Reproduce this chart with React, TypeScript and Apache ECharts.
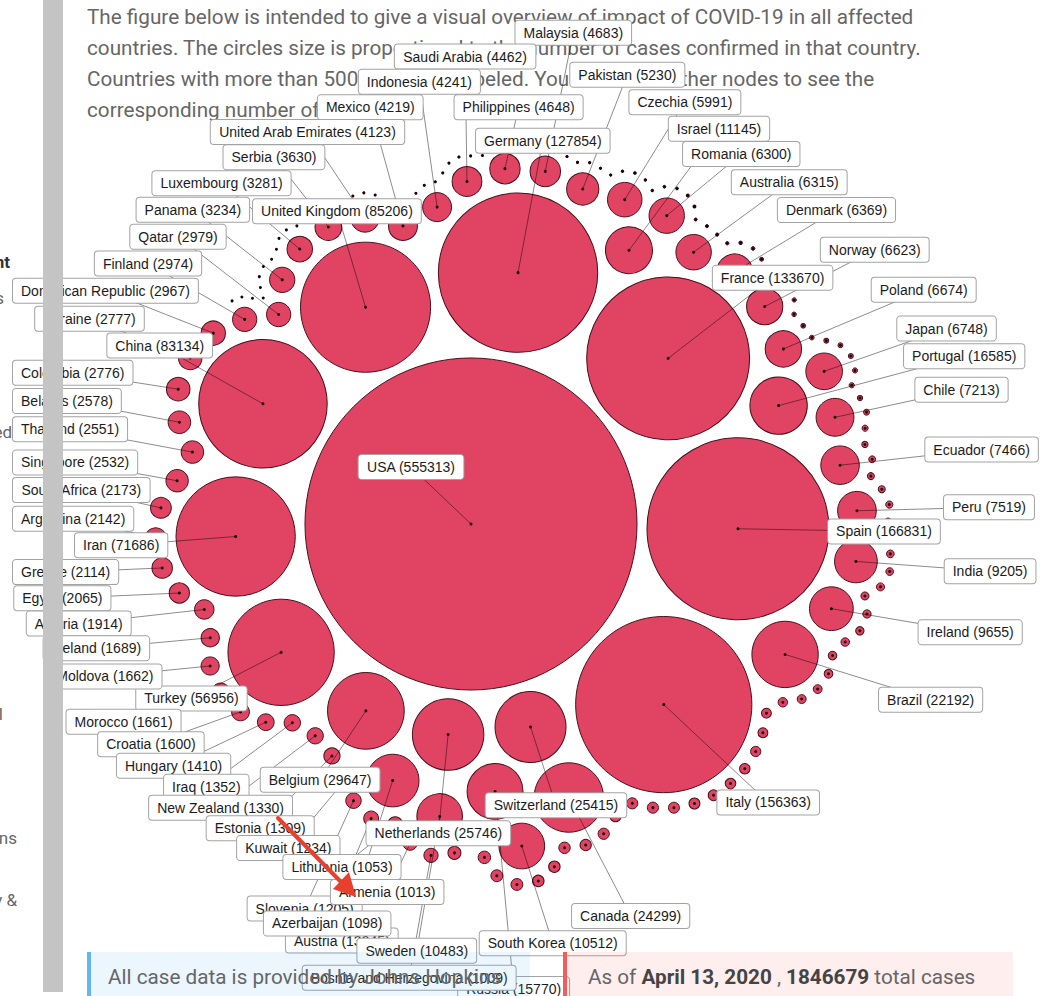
import React, { useEffect, useRef } from "react";
import * as echarts from "echarts";

// ---------------- data (cases per country, JHU snapshot) ----------------
const countries: string[] = [
  "USA", "Spain", "Italy", "France", "Germany", "United Kingdom", "China", "Iran", "Turkey", "Belgium",
  "Netherlands", "Switzerland", "Canada", "Brazil", "Portugal", "Russia", "Austria", "Israel", "South Korea", "Sweden",
  "Ireland", "India", "Peru", "Ecuador", "Chile", "Japan", "Poland", "Norway", "Denmark", "Australia",
  "Romania", "Czechia", "Pakistan", "Malaysia", "Philippines", "Saudi Arabia", "Indonesia", "Mexico", "United Arab Emirates", "Serbia",
  "Luxembourg", "Panama", "Qatar", "Finland", "Dominican Republic", "Ukraine", "Colombia", "Belarus", "Thailand", "Singapore",
  "South Africa", "Argentina", "Greece", "Egypt", "Algeria", "Iceland", "Moldova", "Morocco", "Croatia", "Hungary",
  "Iraq", "New Zealand", "Estonia", "Kuwait", "Slovenia", "Azerbaijan", "Lithuania", "Armenia", "Bosnia and Herzegovina",
  "North Macedonia", "Cameroon", "Kazakhstan", "Diamond Princess", "Tunisia", "Cuba", "Cyprus", "Bulgaria", "Andorra", "Latvia",
  "Uzbekistan", "Bangladesh", "Lebanon", "Afghanistan", "Oman", "Cote d'Ivoire", "Ghana", "Costa Rica", "Niger", "Burkina Faso",
  "Uruguay", "Albania", "Honduras", "Jordan", "Taiwan", "Malta", "Kosovo", "San Marino", "Kyrgyzstan", "Mauritius",
  "Nigeria", "Bolivia", "Djibouti", "Senegal", "Montenegro", "Vietnam", "Guinea", "Georgia", "Congo (Kinshasa)", "Sri Lanka",
  "Kenya", "Venezuela", "Guatemala", "Brunei", "Paraguay", "El Salvador", "Cambodia", "Rwanda", "Trinidad and Tobago", "Madagascar",
  "Mali", "Monaco", "Liechtenstein", "Togo", "Jamaica", "Barbados", "Ethiopia", "Congo (Brazzaville)", "Gabon", "Uganda",
  "Liberia", "Bahamas", "Guyana", "Zambia", "Myanmar", "Guinea-Bissau", "Benin", "Eritrea", "Haiti", "Tanzania",
  "Libya", "Syria", "Somalia", "Mozambique", "Angola", "Maldives", "Laos", "Antigua and Barbuda", "Equatorial Guinea", "Sudan",
  "Mongolia", "Namibia", "Fiji", "Dominica", "Saint Lucia", "Zimbabwe", "Malawi", "Botswana", "Eswatini", "Grenada",
  "Nepal", "Saint Kitts and Nevis", "Saint Vincent", "Chad", "Seychelles", "Belize", "Suriname", "Gambia", "Nicaragua", "MS Zaandam",
  "Central African Republic", "Holy See", "Sierra Leone", "Cabo Verde", "Mauritania", "Bhutan", "Burundi", "Western Sahara", "South Sudan", "Sao Tome and Principe",
  "Papua New Guinea", "Timor-Leste", "Yemen"
];
const cases: number[] = [
  555313, 166831, 156363, 133670, 127854, 85206, 83134, 71686, 56956, 29647,
  25746, 25415, 24299, 22192, 16585, 15770, 13945, 11145, 10512, 10483,
  9655, 9205, 7519, 7466, 7213, 6748, 6674, 6623, 6369, 6315,
  6300, 5991, 5230, 4683, 4648, 4462, 4241, 4219, 4123, 3630,
  3281, 3234, 2979, 2974, 2967, 2777, 2776, 2578, 2551, 2532,
  2173, 2142, 2114, 2065, 1914, 1689, 1662, 1661, 1600, 1410,
  1352, 1330, 1309, 1234, 1205, 1098, 1053, 1013, 1009,
  854, 820, 781, 712, 707, 669, 662, 661, 638, 630,
  624, 621, 619, 607, 599, 574, 566, 558, 529, 497,
  494, 446, 397, 389, 385, 370, 362, 356, 339, 324,
  323, 300, 298, 280, 272, 262, 250, 242, 234, 199,
  191, 181, 137, 136, 133, 125, 120, 120, 113, 106,
  105, 92, 79, 76, 73, 72, 71, 60, 57, 54,
  50, 46, 45, 43, 39, 38, 35, 34, 33, 32,
  25, 25, 25, 21, 19, 19, 19, 19, 18, 17,
  16, 16, 16, 16, 15, 14, 13, 13, 12, 12,
  12, 12, 12, 11, 11, 10, 10, 9, 9, 9,
  8, 8, 8, 7, 7, 5, 5, 4, 4, 4,
  2, 2, 1
];
// countries that form the first ring around the largest circle (clockwise from the top)
const innerRing: string[] = [
  "Germany", "France", "Spain", "Italy", "Switzerland", "Netherlands",
  "Belgium", "Turkey", "Iran", "China", "United Kingdom"
];
const rootCountry = "USA";
const labelThreshold = 1000;
const pocketThreshold = 10000; // circles at least this large sink into the deepest gaps

// ---------------- layout constants ----------------
const W = 1056;
const H = 996;
const CHART = { cx: 471, cy: 524, ax: 517, ay: 528, k: 0.2228, pad: 5, ringStartDeg: -79.4, spiralStartDeg: 15 };
const ROOT_LABEL_OFFSET = [-60, -57];
const LABEL_FONT = '"Liberation Sans", Arial, Helvetica, sans-serif';
const PAGE_FONT = 'Roboto, "Noto Sans", sans-serif';

type Circ = { x: number; y: number; r: number; node: any };

function place(b: Circ, a: Circ, c: Circ) {
  const dx = b.x - a.x, dy = b.y - a.y, d2 = dx * dx + dy * dy;
  if (d2) {
    let a2 = a.r + c.r; a2 *= a2;
    let b2 = b.r + c.r; b2 *= b2;
    if (a2 > b2) {
      const x = (d2 + b2 - a2) / (2 * d2);
      const y = Math.sqrt(Math.max(0, b2 / d2 - x * x));
      c.x = b.x - x * dx - y * dy;
      c.y = b.y - x * dy + y * dx;
    } else {
      const x = (d2 + a2 - b2) / (2 * d2);
      const y = Math.sqrt(Math.max(0, a2 / d2 - x * x));
      c.x = a.x + x * dx - y * dy;
      c.y = a.y + x * dy + y * dx;
    }
  } else {
    c.x = a.x + c.r;
    c.y = a.y;
  }
}

function intersects(a: Circ, b: Circ) {
  const dr = a.r + b.r - 1e-6, dx = b.x - a.x, dy = b.y - a.y;
  return dr > 0 && dr * dr > dx * dx + dy * dy;
}

function computeLayout() {
  const nodes = countries.map((name, i) => ({
    name, value: cases[i], r: CHART.k * Math.sqrt(cases[i]), x: 0, y: 0,
  }));
  const byName = new Map(nodes.map((n) => [n.name, n]));
  const root = byName.get(rootCountry)!;
  root.x = CHART.cx;
  root.y = CHART.cy;
  const P = CHART.pad;

  // first ring: each circle tangent to the root and to its neighbour
  const ring = innerRing.map((n) => byName.get(n)!);
  const dist = ring.map((n) => root.r + n.r + 2 * P);
  const deltas = ring.map((n, i) => {
    const j = (i + 1) % ring.length;
    const s = n.r + ring[j].r + 2 * P;
    const di = dist[i], dj = dist[j];
    return Math.acos((di * di + dj * dj - s * s) / (2 * di * dj));
  });
  const total = deltas.reduce((a, b) => a + b, 0);
  const extra = Math.max(0, (2 * Math.PI - total) / ring.length);
  let ang = (CHART.ringStartDeg * Math.PI) / 180;
  ring.forEach((n, i) => {
    n.x = root.x + dist[i] * Math.cos(ang);
    n.y = root.y + dist[i] * Math.sin(ang);
    ang += deltas[i] + extra;
  });

  // front-chain packing: big ones fill the deepest gaps, the rest spiral around
  const AX = CHART.ax, AY = CHART.ay;
  const tangentPoint = (cn: any) => {
    const a = cn._, b = cn.next._;
    const ab = a.r + b.r;
    return [(a.x * b.r + b.x * a.r) / ab, (a.y * b.r + b.y * a.r) / ab];
  };
  const score = (cn: any) => {
    const [x, y] = tangentPoint(cn);
    return (x - AX) * (x - AX) + (y - AY) * (y - AY);
  };
  const chain: any[] = ring.map((n) => ({ _: { x: n.x, y: n.y, r: n.r + P, node: n } }));
  chain.forEach((cn, i) => {
    cn.next = chain[(i + 1) % chain.length];
    cn.previous = chain[(i - 1 + chain.length) % chain.length];
  });
  const closestPair = (start: any) => {
    let best = start, bs = score(start), cur = start;
    while ((cur = cur.next) !== start) {
      const s = score(cur);
      if (s < bs) { bs = s; best = cur; }
    }
    return best;
  };
  const pairAtAngle = (start: any, deg: number) => {
    const target = (deg * Math.PI) / 180;
    const diff = (cn: any) => {
      const [x, y] = tangentPoint(cn);
      let d = Math.atan2(y - root.y, x - root.x) - target;
      while (d > Math.PI) d -= 2 * Math.PI;
      while (d < -Math.PI) d += 2 * Math.PI;
      return Math.abs(d);
    };
    let best = start, bs = diff(start), cur = start;
    while ((cur = cur.next) !== start) {
      const s = diff(cur);
      if (s < bs) { bs = s; best = cur; }
    }
    return best;
  };

  let a: any = closestPair(chain[0]);
  let b: any = a.next;
  const ringSet = new Set(innerRing);
  const rest = nodes
    .filter((n) => n !== root && !ringSet.has(n.name))
    .sort((p, q) => q.value - p.value)
    .map((n) => ({ x: 0, y: 0, r: n.r + P, node: n }));

  for (let i = 0; i < rest.length; ++i) {
    const cc = rest[i];
    place(a._, b._, cc);
    const c: any = { _: cc };
    let j = b.next, k = a.previous, sj = b._.r, sk = a._.r;
    let retry = false;
    let guard = 0;
    do {
      if (sj <= sk) {
        if (intersects(j._, c._)) { b = j; a.next = b; b.previous = a; retry = true; break; }
        sj += j._.r; j = j.next;
      } else {
        if (intersects(k._, c._)) { a = k; a.next = b; b.previous = a; retry = true; break; }
        sk += k._.r; k = k.previous;
      }
      guard++;
    } while (j !== k.next && guard < 10000);
    if (retry) { --i; continue; }
    c.previous = a; c.next = b; a.next = b.previous = b = c;
    const nextNode = rest[i + 1];
    if (nextNode && nextNode.node.value >= pocketThreshold) {
      a = closestPair(c); b = a.next;          // deepest gap next
    } else if (cc.node.value >= pocketThreshold && nextNode) {
      a = pairAtAngle(c, CHART.spiralStartDeg); b = a.next;  // start of the spiral
    }
    // otherwise keep spiralling: next circle goes between a and the one just placed
  }
  rest.forEach((c) => { c.node.x = c.x; c.node.y = c.y; });

  // ---------------- labels ----------------
  const ctx = document.createElement("canvas").getContext("2d")!;
  ctx.font = `14px ${LABEL_FONT}`;
  const CX = root.x, CY = root.y;

  const clusterEdge = (ux: number, uy: number, halfPerp: number) => {
    let e = 0;
    for (const n of nodes) {
      const px = n.x - CX, py = n.y - CY;
      const along = px * ux + py * uy;
      if (along <= 0) continue;
      const perp = Math.abs(px * uy - py * ux);
      if (perp < n.r + halfPerp) e = Math.max(e, along + n.r);
    }
    return e;
  };

  const labels = nodes
    .filter((n) => n.value >= labelThreshold)
    .map((n) => {
      const text = `${n.name} (${n.value})`;
      const w = ctx.measureText(text).width + 18;
      const h = 26;
      let tx: number, ty: number, big = false;
      if (n === root) {
        tx = n.x + ROOT_LABEL_OFFSET[0];
        ty = n.y + ROOT_LABEL_OFFSET[1];
        big = true;
      } else {
        const dx = n.x - CX, dy = n.y - CY;
        const nd = Math.hypot(dx, dy);
        const ux = dx / nd, uy = dy / nd;
        if (ringSet.has(n.name)) {
          tx = n.x + ux * (n.r + 55);
          ty = n.y + uy * (n.r + 55);
          big = true;
        } else {
          const halfPerp = (Math.abs(uy) * w) / 2 + (Math.abs(ux) * h) / 2;
          const R = Math.max(nd + n.r, clusterEdge(ux, uy, halfPerp)) + 50;
          tx = CX + ux * R + (ux * w) / 2;
          ty = CY + uy * R + (uy * h) / 2;
        }
      }
      tx = Math.min(Math.max(tx, 12 + w / 2), W - 2 - w / 2);
      ty = Math.min(Math.max(ty, 4 + h / 2), H + 6 - h / 2);
      return { node: n, text, w, h, x: tx, y: ty, tx, ty, big };
    });

  for (let it = 0; it < 400; it++) {
    for (let i = 0; i < labels.length; i++) {
      for (let j = i + 1; j < labels.length; j++) {
        const A = labels[i], B = labels[j];
        const dx = B.x - A.x, dy = B.y - A.y;
        const ox = (A.w + B.w) / 2 + 2 - Math.abs(dx);
        const oy = (A.h + B.h) / 2 + 2 - Math.abs(dy);
        if (ox > 0 && oy > 0) {
          const ma = A.big ? 0.25 : 1, mb = B.big ? 0.25 : 1, t = ma + mb;
          if (oy < ox) {
            const s = dy >= 0 ? 1 : -1;
            A.y -= (s * oy * ma) / t; B.y += (s * oy * mb) / t;
          } else {
            const s = dx >= 0 ? 1 : -1;
            A.x -= (s * ox * ma) / t; B.x += (s * ox * mb) / t;
          }
        }
      }
    }
    for (const L of labels) {
      if (!L.big) {
        L.x += (L.tx - L.x) * 0.04;
        L.y += (L.ty - L.y) * 0.04;
        const dx = L.x - CX, dy = L.y - CY;
        const d = Math.hypot(dx, dy) || 1;
        const ux = dx / d, uy = dy / d;
        const halfPerp = (Math.abs(uy) * L.w) / 2 + (Math.abs(ux) * L.h) / 2;
        const need = clusterEdge(ux, uy, halfPerp) + 6 + (Math.abs(ux) * L.w) / 2 + (Math.abs(uy) * L.h) / 2;
        if (d < need) {
          L.x = CX + ux * need;
          L.y = CY + uy * need;
        }
      }
      L.x = Math.min(Math.max(L.x, 12 + L.w / 2), W - 2 - L.w / 2);
      L.y = Math.min(Math.max(L.y, 4 + L.h / 2), H + 6 - L.h / 2);
    }
  }
  return { nodes, labels };
}

export default function App() {
  const ref = useRef<HTMLDivElement>(null);
  useEffect(() => {
    if (!ref.current) return;
    const chart = echarts.init(ref.current, undefined, { renderer: "svg" });
    const { nodes, labels } = computeLayout();
    chart.setOption({
      animation: false,
      grid: { left: 0, top: 0, right: 0, bottom: 0 },
      xAxis: { type: "value", min: 0, max: W, show: false },
      yAxis: { type: "value", min: 0, max: H, inverse: true, show: false },
      series: [
        {
          type: "scatter",
          z: 2,
          silent: true,
          clip: false,
          data: nodes.map((n) => ({ name: n.name, value: [n.x, n.y, n.value], symbolSize: n.r * 2 })),
          itemStyle: { color: "#e04462", borderColor: "#4a0f1c", borderWidth: 1, opacity: 1 },
          emphasis: { disabled: true },
        },
        {
          type: "lines",
          coordinateSystem: "cartesian2d",
          z: 3,
          silent: true,
          data: labels.map((l) => ({ coords: [[l.node.x, l.node.y], [l.x, l.y]] })),
          lineStyle: { color: "rgba(0,0,0,0.45)", width: 1, opacity: 1 },
        },
        {
          type: "scatter",
          z: 4,
          silent: true,
          clip: false,
          data: nodes.map((n) => [n.x, n.y]),
          symbolSize: 3,
          itemStyle: { color: "#1a0407", opacity: 1 },
          emphasis: { disabled: true },
        },
        {
          type: "scatter",
          z: 5,
          silent: true,
          clip: false,
          data: labels.map((l) => ({ name: l.text, value: [l.x, l.y] })),
          symbolSize: 1,
          itemStyle: { color: "rgba(0,0,0,0)", opacity: 1 },
          label: {
            show: true,
            position: "inside",
            formatter: "{b}",
            color: "#1c1c1c",
            fontSize: 14,
            fontFamily: LABEL_FONT,
            backgroundColor: "#ffffff",
            borderColor: "#a3a3a3",
            borderWidth: 1,
            borderRadius: 3,
            padding: [5, 8],
            opacity: 1,
          },
          emphasis: { disabled: true },
        },
      ],
      graphic: [
        {
          type: "line",
          z: 100,
          shape: { x1: 278, y1: 818, x2: 343, y2: 884 },
          style: { stroke: "#e8402d", lineWidth: 4, lineCap: "round" },
        },
        {
          type: "polygon",
          z: 100,
          shape: { points: [[356, 897], [333, 889], [349, 872]] },
          style: { fill: "#e8402d" },
        },
      ],
    });
    return () => chart.dispose();
  }, []);

  const side = (txt: string, right: number, top: number, bold = false) => (
    <div
      style={{
        position: "absolute", right: W - right, top, fontSize: 17, lineHeight: "20px",
        color: bold ? "#333" : "#666", fontWeight: bold ? 700 : 400, whiteSpace: "nowrap",
      }}
    >
      {txt}
    </div>
  );

  return (
    <div
      style={{
        position: "absolute", left: 0, top: 0, width: W, height: H, overflow: "hidden",
        background: "#fff", fontFamily: PAGE_FONT,
      }}
    >
      <div
        style={{
          position: "absolute", left: 87, top: 1.5, fontSize: 20.7, lineHeight: "31px",
          color: "#666", whiteSpace: "nowrap", zIndex: 0,
        }}
      >
        The figure below is intended to give a visual overview of impact of COVID-19 in all affected
        <br />
        countries. The circles size is proportional to the number of cases confirmed in that country.
        <br />
        Countries with more than 500 cases are labeled. You can hover other nodes to see the
        <br />
        corresponding number of cases.
      </div>

      <div ref={ref} style={{ position: "absolute", left: 0, top: 0, width: W, height: H, zIndex: 1 }} />

      <div
        style={{
          position: "absolute", left: 87, top: 952, width: 439, height: 60,
          background: "rgba(66,165,245,0.10)", borderLeft: "4px solid #64b5f6", zIndex: 2,
        }}
      >
        <div style={{ position: "absolute", left: 17, top: 15, fontSize: 20.7, lineHeight: "21px", color: "#666", whiteSpace: "nowrap" }}>
          All case data is provided by Johns Hopkins
        </div>
      </div>
      <div
        style={{
          position: "absolute", left: 563, top: 952, width: 446, height: 60,
          background: "rgba(244,67,54,0.09)", borderLeft: "4px solid #f45b5b", zIndex: 2,
        }}
      >
        <div style={{ position: "absolute", left: 21, top: 15, fontSize: 20.7, lineHeight: "21px", color: "#666", whiteSpace: "nowrap" }}>
          As of <b style={{ color: "#444" }}>April 13, 2020</b> , <b style={{ color: "#444" }}>1846679</b> total cases
        </div>
      </div>

      {side("nt", 10, 252, true)}
      {side("s", 4, 288)}
      {side("ed", 12, 422)}
      {side("l", 3, 704)}
      {side("ns", 17, 828)}
      {side("y &", 17, 890)}

      <div style={{ position: "absolute", left: 43, top: 0, width: 20, height: 992, background: "#c4c4c4", zIndex: 3 }} />
    </div>
  );
}
